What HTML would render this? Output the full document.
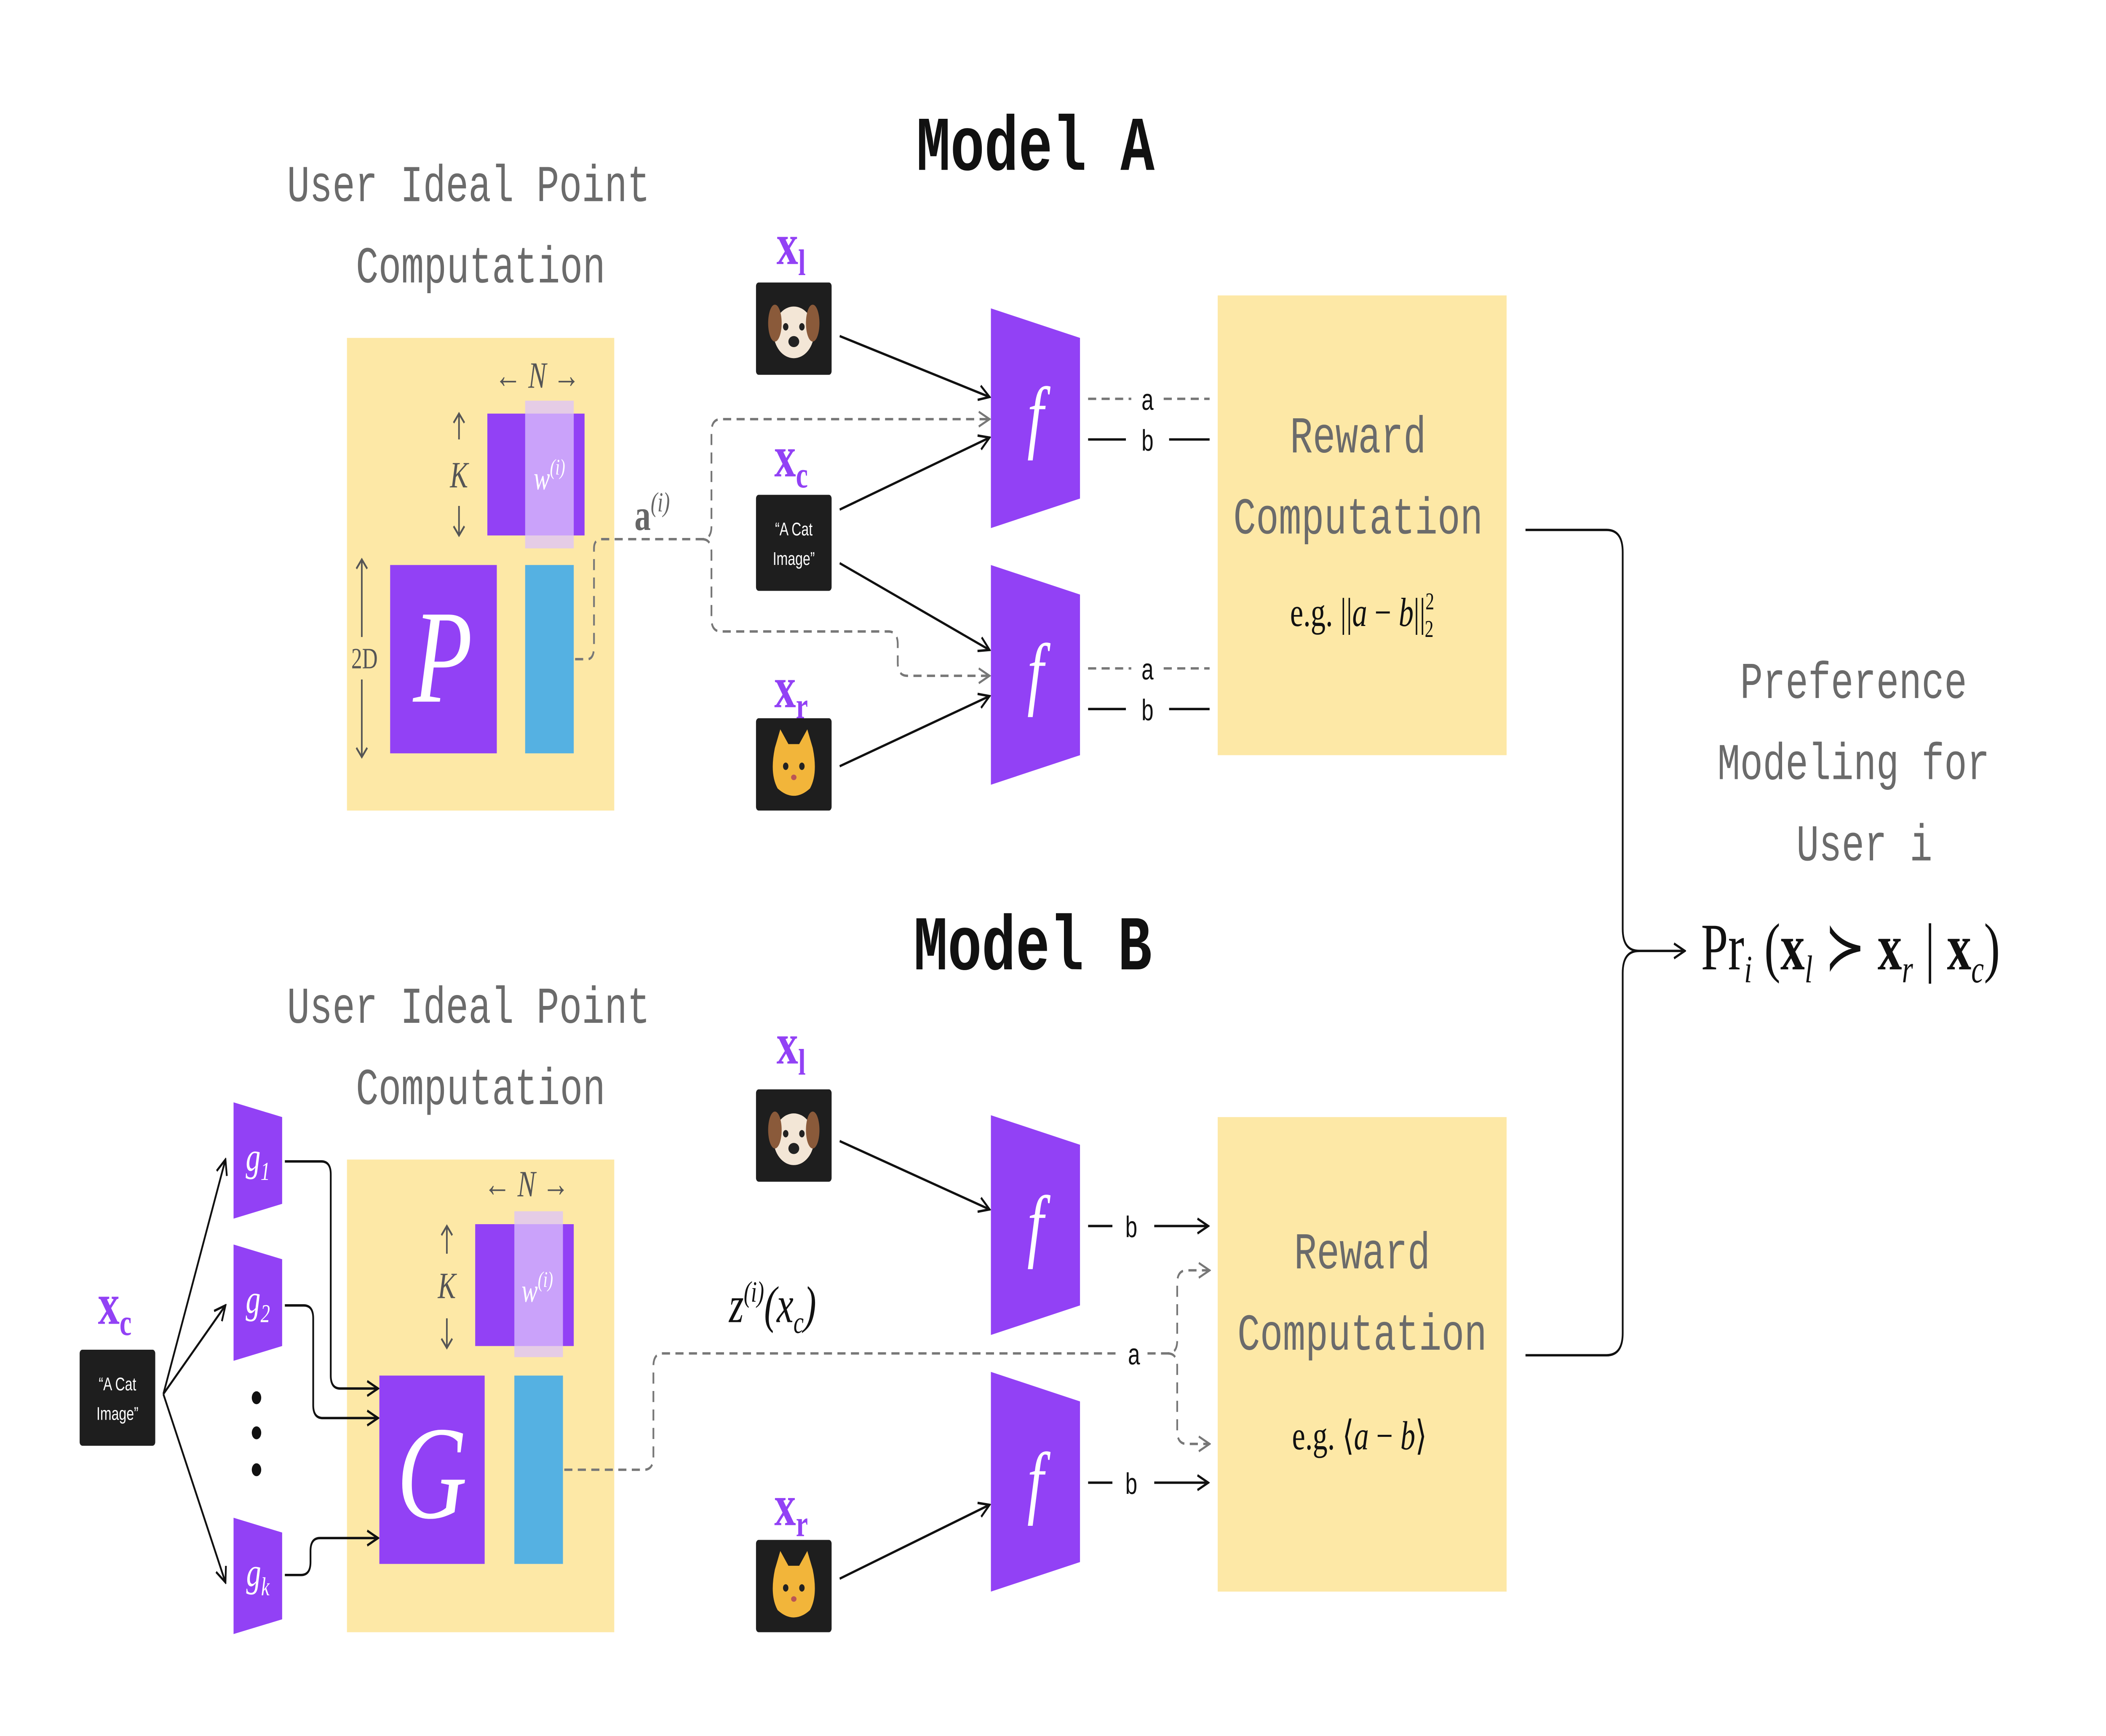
<!DOCTYPE html>
<html><head><meta charset="utf-8"><style>html,body{margin:0;padding:0;background:#fff;overflow:hidden;width:100vw;height:100vh}svg{display:block;width:100vw;height:100vh}</style></head>
<body>
<svg xmlns="http://www.w3.org/2000/svg" viewBox="0 0 1560 940.2" preserveAspectRatio="none">
<defs>
<marker id="ah" markerWidth="10" markerHeight="10" refX="9" refY="5" orient="auto" markerUnits="userSpaceOnUse"><path d="M1,1 L9,5 L1,9" fill="none" stroke="#111" stroke-width="1.3"/></marker>
<marker id="ahg" markerWidth="10" markerHeight="10" refX="9" refY="5" orient="auto" markerUnits="userSpaceOnUse"><path d="M1,1 L9,5 L1,9" fill="none" stroke="#777" stroke-width="1.2"/></marker>
<g id="dog"><rect x="0" y="0" width="56" height="50" rx="2" fill="#1e1e1e"/><ellipse cx="28" cy="27" rx="15" ry="14" fill="#f3e6d6"/><ellipse cx="14" cy="22" rx="5" ry="10" fill="#8a5a3a"/><ellipse cx="42" cy="22" rx="5" ry="10" fill="#8a5a3a"/><circle cx="22" cy="24" r="2" fill="#222"/><circle cx="34" cy="24" r="2" fill="#222"/><ellipse cx="28" cy="32" rx="4" ry="3" fill="#222"/></g>
<g id="cat"><rect x="0" y="0" width="56" height="50" rx="2" fill="#1e1e1e"/><path d="M14,16 L18,6 L24,14 L32,14 L38,6 L42,16 Q46,30 40,38 Q28,46 16,38 Q10,30 14,16Z" fill="#f2b53a"/><circle cx="22" cy="26" r="2" fill="#222"/><circle cx="34" cy="26" r="2" fill="#222"/><ellipse cx="28" cy="32" rx="2" ry="1.5" fill="#b55"/></g>
<g id="catimg"><rect x="0" y="0" width="56" height="52" rx="2" fill="#1e1e1e"/><text x="28" y="22" font-family="Liberation Sans, sans-serif" font-size="10" fill="#fff" text-anchor="middle">“A Cat</text><text x="28" y="38" font-family="Liberation Sans, sans-serif" font-size="10" fill="#fff" text-anchor="middle">Image”</text></g>
</defs>
<g fill="#fde8a6"><rect x="257" y="183" width="198" height="256"/><rect x="257" y="628" width="198" height="256"/><rect x="902" y="160" width="214" height="249"/><rect x="902" y="605" width="214" height="257"/></g>
<rect x="361" y="224" width="72" height="66" fill="#9241f5"/><rect x="389" y="217" width="36" height="80" fill="#dcc3fb" opacity="0.75"/>
<rect x="289" y="306" width="79" height="102" fill="#9241f5"/><rect x="389" y="306" width="36" height="102" fill="#55b1e2"/>
<rect x="352" y="663" width="73" height="66" fill="#9241f5"/><rect x="381" y="656" width="36" height="79" fill="#dcc3fb" opacity="0.75"/>
<rect x="281" y="745" width="78" height="102" fill="#9241f5"/><rect x="381" y="745" width="36" height="102" fill="#55b1e2"/>

<g font-family="Liberation Mono, monospace">
<text x="767" y="92" font-size="42" font-weight="bold" text-anchor="middle" fill="#111">Model A</text>
<text x="765" y="525" font-size="42" font-weight="bold" text-anchor="middle" fill="#111">Model B</text>
<g fill="#6b6b6b" font-size="28" text-anchor="middle">
<text x="347" y="109">User Ideal Point</text><text x="356" y="153">Computation</text>
<text x="347" y="554">User Ideal Point</text><text x="356" y="598">Computation</text>
<text x="1006" y="245">Reward</text><text x="1006" y="289">Computation</text>
<text x="1009" y="687">Reward</text><text x="1009" y="731">Computation</text>
<text x="1373" y="378">Preference</text><text x="1373" y="422">Modeling for</text><text x="1381" y="466">User i</text>
</g></g>

<g font-family="Liberation Serif, serif" font-style="italic">
<text x="328" y="380" font-size="72" fill="#fff" text-anchor="middle">P</text>
<text x="407" y="265" font-size="18" fill="#fff" text-anchor="middle">w<tspan font-size="12" dy="-8">(i)</tspan></text>
<text x="398" y="210" font-size="20" fill="#555" text-anchor="middle">← N →</text>
<text x="340" y="264" font-size="20" fill="#555" text-anchor="middle">K</text>
<text x="270" y="362" font-size="16" fill="#555" text-anchor="middle" font-style="normal">2D</text>
<text x="320" y="822" font-size="72" fill="#fff" text-anchor="middle">G</text>
<text x="398" y="705" font-size="18" fill="#fff" text-anchor="middle">w<tspan font-size="12" dy="-8">(i)</tspan></text>
<text x="390" y="648" font-size="20" fill="#555" text-anchor="middle">← N →</text>
<text x="331" y="703" font-size="20" fill="#555" text-anchor="middle">K</text>
</g>
<g stroke="#555" stroke-width="1.2" fill="none"><path d="M340,238 V224 M336,229 L340,224 L344,229 M340,274 V290 M336,285 L340,290 L344,285"/>
<path d="M268,303 V345 M264,308 L268,303 L272,308 M268,368 V410 M264,405 L268,410 L272,405"/>
<path d="M331,679 V664 M327,669 L331,664 L335,669 M331,714 V730 M327,725 L331,730 L335,725"/></g>
<text x="470" y="287" font-family="Liberation Serif, serif" font-size="24" font-weight="bold" fill="#666">a<tspan font-size="15" font-weight="normal" font-style="italic" dy="-10">(i)</tspan></text>
<g stroke="#777" stroke-width="1.3" fill="none" stroke-dasharray="6,4">
<path d="M426,357 H435 Q440,357 440,350 V297 Q440,292 446,292 H520 Q527,292 527,285 V234 Q527,227 534,227 H733" marker-end="url(#ahg)"/>
<path d="M520,292 Q527,292 527,299 V335 Q527,342 534,342 H658 Q665,342 665,349 V359 Q665,366 672,366 H733" marker-end="url(#ahg)"/>
<path d="M418,796 H477 Q484,796 484,789 V740 Q484,733 491,733 H830"/>
<path d="M850,733 H865 Q872,733 872,726 V695 Q872,688 879,688 H896" marker-end="url(#ahg)"/>
<path d="M865,733 Q872,733 872,740 V775 Q872,782 879,782 H896" marker-end="url(#ahg)"/>
<path d="M806,216 H838 M862,216 H896 M806,362 H838 M862,362 H896"/>
</g>
<text x="540" y="716" font-family="Liberation Serif, serif" font-style="italic" font-size="28" fill="#111">z<tspan font-size="16" dy="-11">(i)</tspan><tspan dy="11">(x</tspan><tspan font-size="17" dy="6">c</tspan><tspan dy="-6">)</tspan></text>
<g font-family="Liberation Serif, serif" font-weight="bold" fill="#9241f5" font-size="32" text-anchor="middle">
<text x="586" y="143">x<tspan font-size="20" dy="6">l</tspan></text>
<text x="586" y="258">x<tspan font-size="20" dy="6">c</tspan></text>
<text x="586" y="383">x<tspan font-size="20" dy="6">r</tspan></text>
<text x="586" y="576">x<tspan font-size="20" dy="6">l</tspan></text>
<text x="586" y="826">x<tspan font-size="20" dy="6">r</tspan></text>
<text x="85" y="717">x<tspan font-size="20" dy="6">c</tspan></text>
</g>
<use href="#dog" x="560" y="153"/><use href="#catimg" x="560" y="268"/><use href="#cat" x="560" y="389"/>
<use href="#dog" x="560" y="590"/><use href="#cat" x="560" y="834"/><use href="#catimg" x="59" y="731"/>
<g fill="#9241f5">
<path d="M734,167 L800,183 V270 L734,286Z"/><path d="M734,306 L800,322 V409 L734,425Z"/>
<path d="M734,604 L800,620 V707 L734,723Z"/><path d="M734,743 L800,759 V846 L734,862Z"/>
<path d="M173,597 L209,605 V652 L173,660Z"/><path d="M173,674 L209,682 V729 L173,737Z"/><path d="M173,822 L209,830 V877 L173,885Z"/>
</g>
<g font-family="Liberation Serif, serif" font-style="italic" fill="#fff" text-anchor="middle">
<text x="767" y="240" font-size="44">f</text><text x="767" y="379" font-size="44">f</text>
<text x="767" y="678" font-size="44">f</text><text x="767" y="817" font-size="44">f</text>
<text x="191" y="634" font-size="22">g<tspan font-size="14" dy="5">1</tspan></text>
<text x="191" y="711" font-size="22">g<tspan font-size="14" dy="5">2</tspan></text>
<text x="191" y="859" font-size="22">g<tspan font-size="14" dy="5">k</tspan></text>
</g>
<g fill="#111"><circle cx="190" cy="757" r="3.5"/><circle cx="190" cy="776" r="3.5"/><circle cx="190" cy="796" r="3.5"/></g>
<g font-family="Liberation Sans, sans-serif" font-size="16" fill="#111" text-anchor="middle">
<text x="850" y="222">a</text><text x="850" y="244">b</text><text x="850" y="368">a</text><text x="850" y="390">b</text>
<text x="838" y="670">b</text><text x="840" y="739">a</text><text x="838" y="809">b</text>
</g>
<g stroke="#111" stroke-width="1.3" fill="none">
<path d="M806,238 H834 M866,238 H896 M806,384 H834 M866,384 H896 M806,664 H824"/>
<path d="M806,803 H824"/><path d="M855,803 H895" marker-end="url(#ah)"/>
<path d="M855,664 H895" marker-end="url(#ah)"/>
<path d="M622,182 L733,215" marker-end="url(#ah)"/><path d="M622,276 L733,237" marker-end="url(#ah)"/>
<path d="M622,305 L733,352" marker-end="url(#ah)"/><path d="M622,415 L733,377" marker-end="url(#ah)"/>
<path d="M622,618 L733,655" marker-end="url(#ah)"/><path d="M622,855 L733,815" marker-end="url(#ah)"/>
<path d="M121,755 L167,628" marker-end="url(#ah)"/><path d="M121,755 L167,707" marker-end="url(#ah)"/><path d="M121,755 L167,857" marker-end="url(#ah)"/>
<path d="M211,629 H238 Q245,629 245,636 V745 Q245,752 252,752 H280" marker-end="url(#ah)"/>
<path d="M211,707 H225 Q232,707 232,714 V761 Q232,768 239,768 H280" marker-end="url(#ah)"/>
<path d="M211,853 H223 Q230,853 230,846 V840 Q230,833 237,833 H280" marker-end="url(#ah)"/>
<path d="M1130,287 H1190 Q1202,287 1202,299 V503 Q1202,515 1214,515 H1248" marker-end="url(#ah)"/>
<path d="M1130,734 H1190 Q1202,734 1202,722 V527 Q1202,515 1214,515"/>
</g>
<g font-family="Liberation Serif, serif" fill="#111">
<text x="1009" y="339" font-size="22" text-anchor="middle">e.g. ||<tspan font-style="italic">a</tspan> − <tspan font-style="italic">b</tspan>||<tspan font-size="13" dy="-9">2</tspan><tspan font-size="13" dx="-7" dy="15">2</tspan></text>
<text x="1007" y="785" font-size="22" text-anchor="middle">e.g. ⟨<tspan font-style="italic">a</tspan> − <tspan font-style="italic">b</tspan>⟩</text>
<text x="1260" y="525" font-size="36">Pr<tspan font-size="21" font-style="italic" dy="7">i</tspan><tspan dy="-7"> (</tspan><tspan font-weight="bold">x</tspan><tspan font-size="21" font-style="italic" dy="7">l</tspan><tspan dy="-7"> ≻ </tspan><tspan font-weight="bold">x</tspan><tspan font-size="21" font-style="italic" dy="7">r</tspan><tspan dy="-7"> | </tspan><tspan font-weight="bold">x</tspan><tspan font-size="21" font-style="italic" dy="7">c</tspan><tspan dy="-7">)</tspan></text>
</g>
</svg>
</body></html>
